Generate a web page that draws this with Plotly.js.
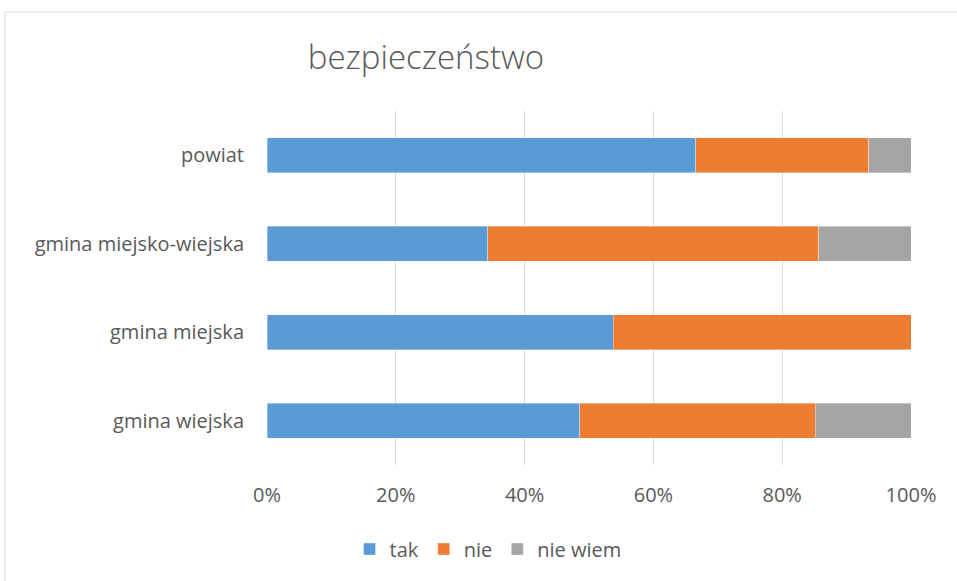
<!DOCTYPE html>
<html>
<head>
<meta charset="utf-8">
<script src="https://cdn.plot.ly/plotly-3.0.1.min.js"></script>
<style>
html,body{margin:0;padding:0;background:#fff;}
#chart{width:957px;height:581px;}
</style>
</head>
<body>
<div id="chart"></div>
<script>
const categories = ['gmina wiejska', 'gmina miejska', 'gmina miejsko-wiejska', 'powiat'];
const seriesNames = ['tak', 'nie', 'nie wiem'];
const tak = [48.6, 53.8, 34.3, 66.6];
const nie = [36.5, 46.2, 51.4, 26.8];
const nieWiem = [14.9, 0, 14.3, 6.6];
const xTicks = [0, 20, 40, 60, 80, 100];
const colors = ['#5b9bd5', '#ed7d31', '#a5a5a5'];

const values = [tak, nie, nieWiem];
const traces = values.map((v, i) => ({
  type: 'bar',
  orientation: 'h',
  name: seriesNames[i],
  y: categories,
  x: v,
  width: 0.4,
  marker: {color: colors[i], line: {color: 'rgba(255,255,255,0.6)', width: 0.6}},
  hoverinfo: 'x+y+name'
}));

const font = 'Open Sans, Liberation Sans, sans-serif';
const layout = {
  width: 957, height: 581,
  margin: {l: 267, r: 46, t: 111, b: 116},
  paper_bgcolor: '#ffffff', plot_bgcolor: '#ffffff',
  barmode: 'stack',
  bargap: 0.6,
  font: {family: font, color: '#595959', size: 20},
  title: {
    text: 'bezpieczeństwo',
    font: {family: font, size: 33, color: '#595959', weight: 300},
    x: 426 / 957, xanchor: 'center', xref: 'container',
    y: 1 - 57 / 581, yanchor: 'middle', yref: 'container'
  },
  xaxis: {
    range: [0, 100], tickvals: xTicks, ticktext: xTicks.map(t => t + '%'),
    showgrid: true, gridcolor: '#d9d9d9', gridwidth: 1,
    zeroline: false, showline: false,
    ticks: 'outside', ticklen: 12, tickcolor: 'rgba(0,0,0,0)',
    tickfont: {family: font, size: 20, color: '#595959'},
    fixedrange: true
  },
  yaxis: {
    type: 'category', categoryorder: 'array', categoryarray: categories,
    showgrid: false, zeroline: false, showline: false,
    ticks: 'outside', ticklen: 18, tickcolor: 'rgba(0,0,0,0)',
    tickfont: {family: font, size: 20, color: '#595959'},
    fixedrange: true
  },
  legend: {
    orientation: 'h', x: (488 - 267) / 644, xanchor: 'center',
    y: (465 - 549) / 354, yanchor: 'middle',
    font: {family: font, size: 20, color: '#595959'},
    itemwidth: 30,
    itemclick: false, itemdoubleclick: false,
    traceorder: 'normal'
  },
  shapes: [{
    type: 'rect', xref: 'paper', yref: 'paper',
    x0: (5 - 267) / 644, x1: (965 - 267) / 644,
    y0: (465 - 595) / 354, y1: (465 - 12) / 354,
    line: {color: '#d9d9d9', width: 1}, fillcolor: 'rgba(0,0,0,0)', layer: 'below'
  }],
  showlegend: true
};

Plotly.newPlot('chart', traces, layout, {displayModeBar: false, staticPlot: false});
</script>
</body>
</html>
